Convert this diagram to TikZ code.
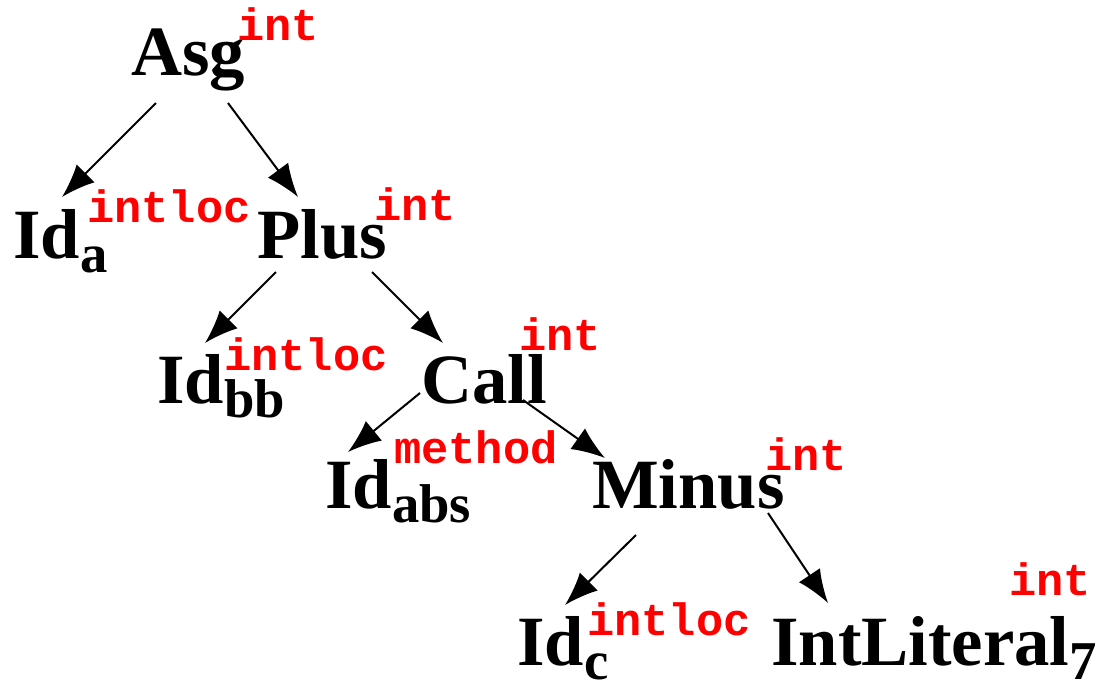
\documentclass[tikz,border=0pt]{standalone}
\usepackage{fontspec}
\setmainfont{Liberation Serif}
\newfontfamily\typefont{Liberation Mono}
\usetikzlibrary{arrows.meta}
\tikzset{
  ast/.style={anchor=base west, inner sep=0pt, font=\fontsize{53}{53}\selectfont\bfseries},
  typ/.style={anchor=base west, inner sep=0pt, text=red, font=\fontsize{34}{34}\typefont\bfseries},
  edge/.style={line width=1.5pt, -{Latex[length=25pt,width=19pt]}}
}
\newcommand{\subx}[1]{\raisebox{-11pt}{\fontsize{41}{41}\selectfont #1}}
\begin{document}
\begin{tikzpicture}[x=0.75pt,y=-0.75pt]
\useasboundingbox (0,0) rectangle (1105,683);
% AST nodes
\node[ast] (asg) at (131,75) {Asg};
\node[typ] (tasg) at (237,40) {int};
\node[ast] (ida) at (13,258) {Id\subx{a}};
\node[typ] (tida) at (87,222) {intloc};
\node[ast] (plus) at (257,258) {Plus};
\node[typ] (tplus) at (374,220) {int};
\node[ast] (idbb) at (157,403) {Id\subx{bb}};
\node[typ] (tidbb) at (224,370) {intloc};
\node[ast] (call) at (421,403) {Call};
\node[typ] (tcall) at (519,350) {int};
\node[ast] (idabs) at (325,508) {Id\subx{abs}};
\node[typ] (tidabs) at (394,463) {method};
\node[ast] (minus) at (592,508) {Minus};
\node[typ] (tminus) at (765,470) {int};
\node[ast] (idc) at (517,665) {Id\subx{c}};
\node[typ] (tidc) at (587,635) {intloc};
\node[ast] (lit) at (771,665) {IntLiteral\subx{7}};
\node[typ] (tlit) at (1009,595) {int};
% edges
\draw[edge] ([shift={(25,28)}]asg.base west) -- ([shift={(49,-61)}]ida.base west);
\draw[edge] ([shift={(97,28)}]asg.base west) -- ([shift={(41,-61)}]plus.base west);
\draw[edge] ([shift={(19,14)}]plus.base west) -- ([shift={(48,-60)}]idbb.base west);
\draw[edge] ([shift={(115,14)}]plus.base west) -- ([shift={(22,-60)}]call.base west);
\draw[edge] ([shift={(-1,-10)}]call.base west) -- ([shift={(23,-56)}]idabs.base west);
\draw[edge] ([shift={(102,-3)}]call.base west) -- ([shift={(13,-50)}]minus.base west);
\draw[edge] ([shift={(44,27)}]minus.base west) -- ([shift={(48,-60)}]idc.base west);
\draw[edge] ([shift={(176,5)}]minus.base west) -- ([shift={(57,-62)}]lit.base west);
\end{tikzpicture}
\end{document}
